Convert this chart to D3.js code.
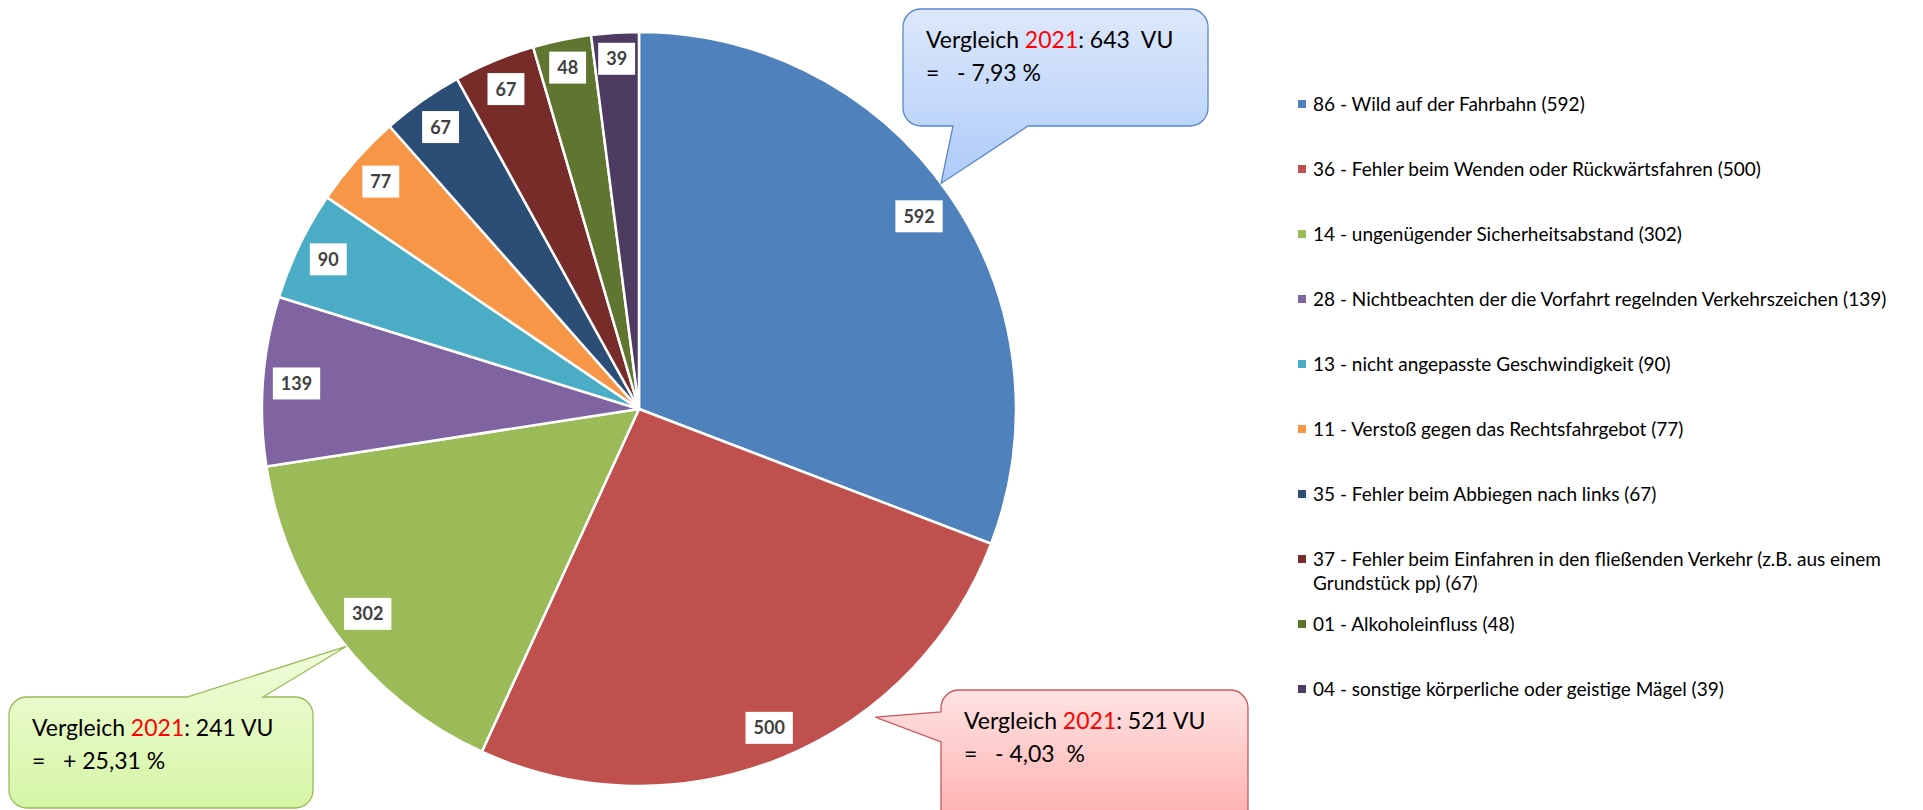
<!DOCTYPE html>
<html lang="de">
<head>
<meta charset="UTF-8">
<title>Unfallursachen</title>
<script src="https://d3js.org/d3.v7.min.js"></script>
<style>
    body { margin: 0; background: #fff; font-family: Lato, "Open Sans", sans-serif; }
    text { white-space: pre; }
    .legend text { font-size: 19px; fill: #000; }
    .lbl text { font-size: 18px; font-weight: bold; fill: #404040; }
    .callout text { font-size: 23px; fill: #000; }
</style>
</head>
<body>
<svg width="1923" height="810"></svg>
<script>
// --- data ---
const categories = [
    "86 - Wild auf der Fahrbahn (592)",
    "36 - Fehler beim Wenden oder Rückwärtsfahren (500)",
    "14 - ungenügender Sicherheitsabstand (302)",
    "28 - Nichtbeachten der die Vorfahrt regelnden Verkehrszeichen (139)",
    "13 - nicht angepasste Geschwindigkeit (90)",
    "11 - Verstoß gegen das Rechtsfahrgebot (77)",
    "35 - Fehler beim Abbiegen nach links (67)",
    "37 - Fehler beim Einfahren in den fließenden Verkehr (z.B. aus einem\nGrundstück pp) (67)",
    "01 - Alkoholeinfluss (48)",
    "04 - sonstige körperliche oder geistige Mägel (39)"
];
const values = [592, 500, 302, 139, 90, 77, 67, 67, 48, 39];
const colors = ["#4F81BD", "#C0504D", "#9BBB59", "#8064A2", "#4BACC6",
                "#F79646", "#2C4D75", "#772C2A", "#5F7530", "#4D3B62"];

// comparison notes (slice index, previous year, count, change)
const notes = [
    {slice: 0, year: "2021", prev: ": 643  VU", change: "=   - 7,93 %"},
    {slice: 1, year: "2021", prev: ": 521 VU", change: "=   - 4,03  %"},
    {slice: 2, year: "2021", prev: ": 241 VU", change: "=   + 25,31 %"}
];

// --- layout ---
const cx = 639, cy = 409, radius = 377;
const svg = d3.select("svg");

const pie = d3.pie().sort(null).value(d => d);
const arcs = pie(values);
const arc = d3.arc().innerRadius(0).outerRadius(radius);

const g = svg.append("g").attr("transform", `translate(${cx},${cy})`);

g.selectAll("path.slice")
    .data(arcs)
    .enter().append("path")
    .attr("class", "slice")
    .attr("d", arc)
    .attr("fill", (d, i) => colors[i])
    .attr("stroke", "#fff")
    .attr("stroke-width", 2.5)
    .attr("stroke-linejoin", "round");

// data labels, boxed, pushed to the inside end of each slice
const lbl = g.append("g").attr("class", "lbl")
    .selectAll("g")
    .data(arcs)
    .enter().append("g");

lbl.each(function(d) {
    const grp = d3.select(this);
    const rect = grp.append("rect").attr("fill", "#fff");
    const t = grp.append("text")
        .attr("text-anchor", "middle")
        .attr("dy", "0.36em")
        .text(d.value);
    const bw = t.node().getComputedTextLength() + 16, bh = 32;
    rect.attr("x", -bw / 2).attr("y", -bh / 2).attr("width", bw).attr("height", bh);
    const a = (d.startAngle + d.endAngle) / 2;
    const ux = Math.sin(a), uy = -Math.cos(a);
    const kx = Math.sign(ux) * bw / 2, ky = Math.sign(uy) * bh / 2;
    const uk = ux * kx + uy * ky, kk = kx * kx + ky * ky;
    const R = radius - 8.5;
    const dist = -uk + Math.sqrt(uk * uk - kk + R * R);
    grp.attr("transform", `translate(${ux * dist},${uy * dist})`);
});

// legend
const legend = svg.append("g").attr("class", "legend")
    .attr("transform", "translate(1298,0)");
const rowY = d3.scalePoint().domain(d3.range(categories.length)).range([104, 689]);

categories.forEach((c, i) => {
    const row = legend.append("g").attr("transform", `translate(0,${rowY(i)})`);
    row.append("rect").attr("x", 0).attr("y", -4).attr("width", 8).attr("height", 8)
        .attr("fill", colors[i]);
    const t = row.append("text").attr("x", 15).attr("y", 0);
    c.split("\n").forEach((ln, j) => {
        t.append("tspan").attr("x", 15).attr("dy", j === 0 ? "0.35em" : "24px").text(ln);
    });
});

// callouts
const defs = svg.append("defs");
const calloutStyle = [
    {top: "#dde8fb", bottom: "#aecbf9", stroke: "#5a88c6",
     box: [903, 9, 305, 117], side: "bottom", base: [953, 1028], tipFrac: 0.48, tipR: 1.0},
    {top: "#ffe3e3", bottom: "#ffa8a8", stroke: "#c9585a",
     box: [941, 690, 307, 150], side: "left", base: [712, 742], tipFrac: 0.337, tipR: 1.03},
    {top: "#f1fddb", bottom: "#d5f5a6", stroke: "#9bbb59",
     box: [9, 697, 304, 111], side: "top", base: [187, 263], tipFrac: 0.465, tipR: 1.0}
];

function calloutPath(x, y, w, h, r, side, a, b, tx, ty) {
    const p = d3.path();
    p.moveTo(x + r, y);
    if (side === "top") { p.lineTo(a, y); p.lineTo(tx, ty); p.lineTo(b, y); }
    p.lineTo(x + w - r, y);
    p.arcTo(x + w, y, x + w, y + r, r);
    p.lineTo(x + w, y + h - r);
    p.arcTo(x + w, y + h, x + w - r, y + h, r);
    if (side === "bottom") { p.lineTo(b, y + h); p.lineTo(tx, ty); p.lineTo(a, y + h); }
    p.lineTo(x + r, y + h);
    p.arcTo(x, y + h, x, y + h - r, r);
    if (side === "left") { p.lineTo(x, b); p.lineTo(tx, ty); p.lineTo(x, a); }
    p.lineTo(x, y + r);
    p.arcTo(x, y, x + r, y, r);
    p.closePath();
    return p.toString();
}

notes.forEach((n, i) => {
    const s = calloutStyle[i];
    const d = arcs[n.slice];
    const ang = d.startAngle + (d.endAngle - d.startAngle) * s.tipFrac;
    const tx = cx + Math.sin(ang) * radius * s.tipR;
    const ty = cy - Math.cos(ang) * radius * s.tipR;
    const gid = "grad" + i;
    const lg = defs.append("linearGradient").attr("id", gid)
        .attr("x1", 0).attr("y1", 0).attr("x2", 0).attr("y2", 1);
    lg.append("stop").attr("offset", "0%").attr("stop-color", s.top);
    lg.append("stop").attr("offset", "100%").attr("stop-color", s.bottom);

    const [x, y, w, h] = s.box;
    const cg = svg.append("g").attr("class", "callout");
    cg.append("path")
        .attr("d", calloutPath(x, y, w, h, 18, s.side, s.base[0], s.base[1], tx, ty))
        .attr("fill", `url(#${gid})`)
        .attr("stroke", s.stroke)
        .attr("stroke-width", 1.3);
    const t1 = cg.append("text").attr("x", x + 23).attr("y", y + 39);
    t1.append("tspan").text("Vergleich ");
    t1.append("tspan").attr("fill", "#ff0000").text(n.year);
    t1.append("tspan").text(n.prev);
    cg.append("text").attr("x", x + 23).attr("y", y + 72).text(n.change);
});
</script>
</body>
</html>
